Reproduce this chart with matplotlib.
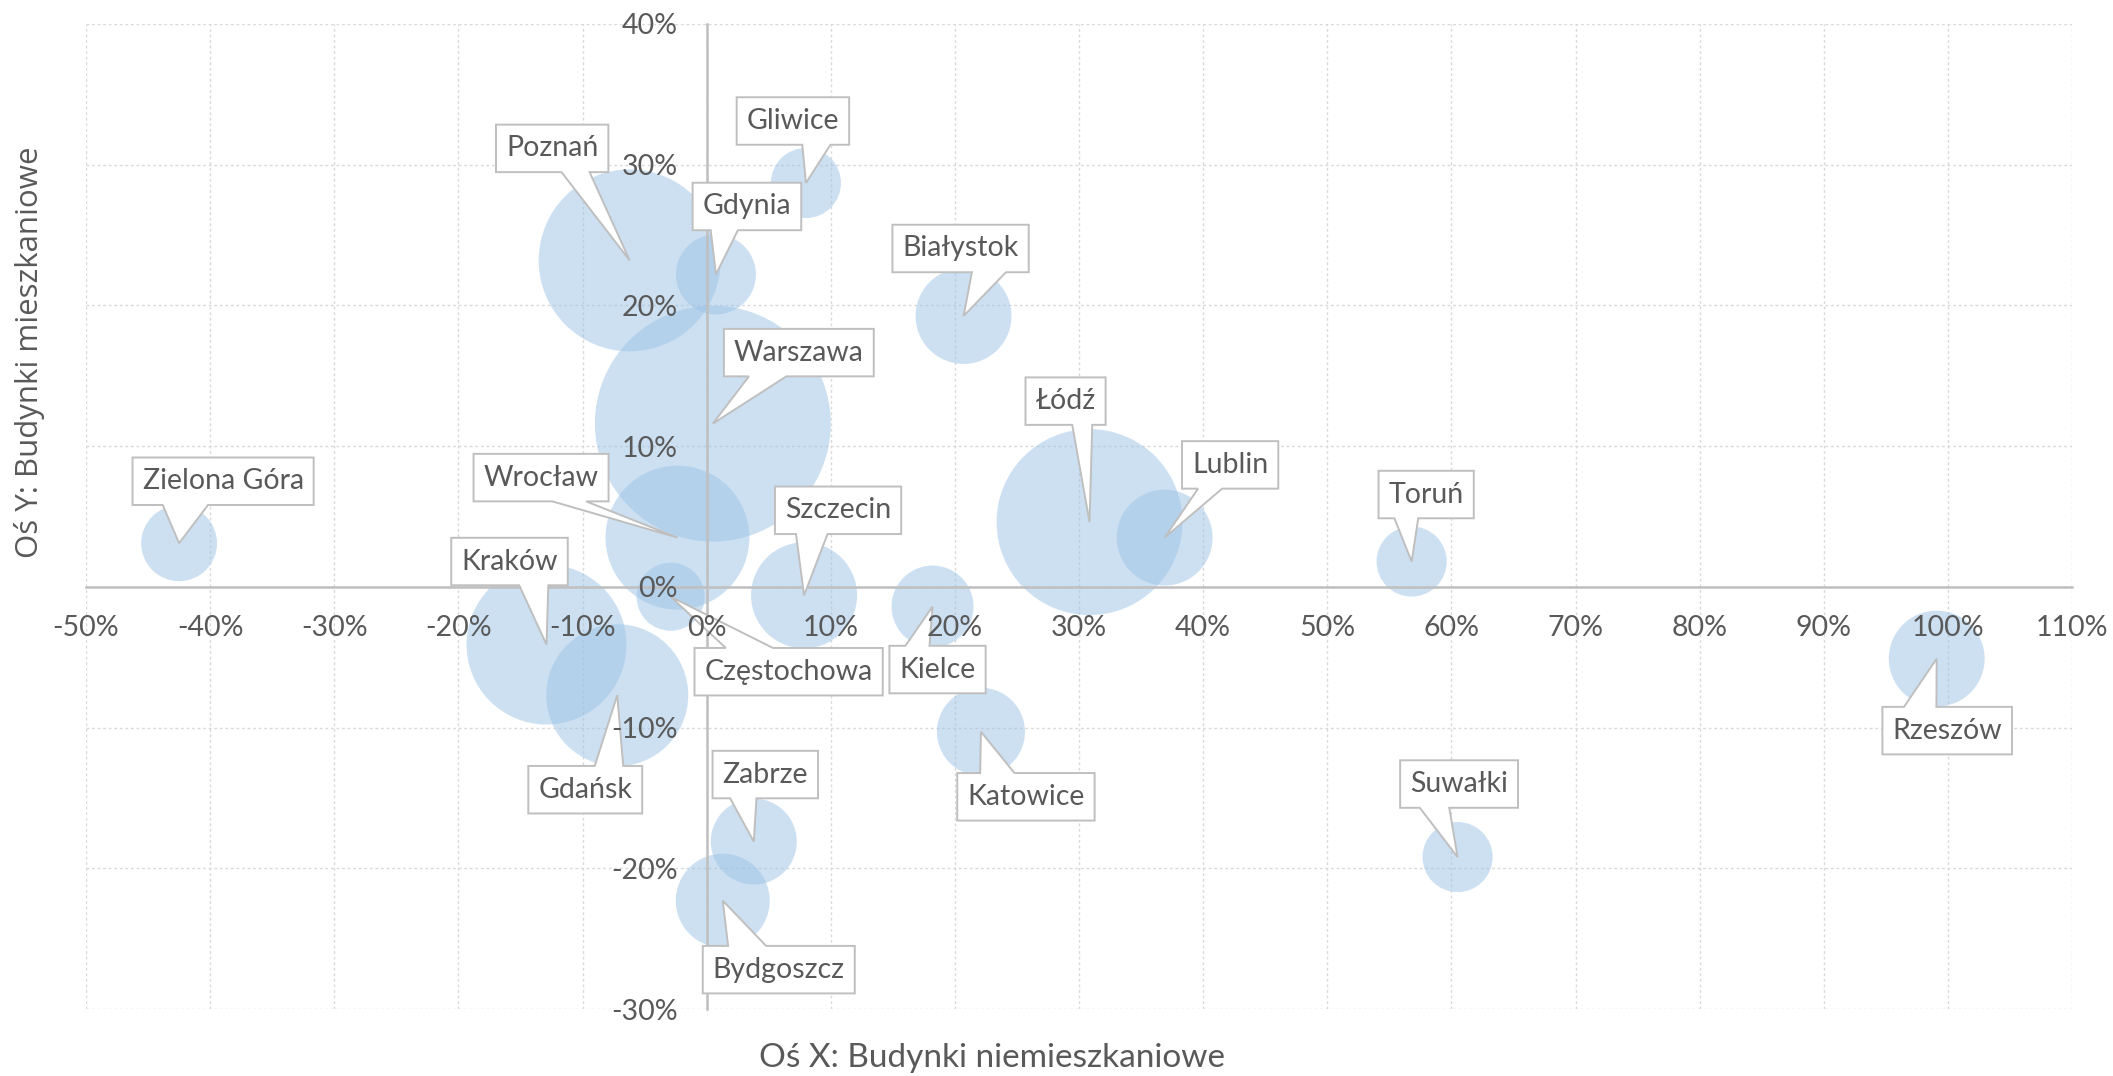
import matplotlib
matplotlib.use("Agg")
import matplotlib.pyplot as plt
import numpy as np
from matplotlib.patches import Polygon
from matplotlib.transforms import IdentityTransform
from matplotlib.ticker import PercentFormatter

plt.rcParams['axes.unicode_minus'] = False

cities = ["Zielona Góra", "Poznań", "Gliwice", "Gdynia", "Warszawa", "Wrocław",
          "Częstochowa", "Szczecin", "Kraków", "Gdańsk", "Zabrze", "Bydgoszcz",
          "Białystok", "Łódź", "Lublin", "Toruń", "Kielce", "Katowice",
          "Suwałki", "Rzeszów"]
# x: budynki niemieszkaniowe (%), y: budynki mieszkaniowe (%)
x_nonres = [-42.5, -6.2, 8.0, 0.75, 0.5, -2.35, -2.9, 7.85, -12.9, -7.2,
            3.8, 1.3, 20.7, 30.85, 36.9, 56.8, 18.2, 22.1, 60.5, 99.1]
y_res = [3.1, 23.2, 28.7, 22.2, 11.6, 3.5, -0.7, -0.6, -4.1, -7.7,
         -18.1, -22.3, 19.25, 4.6, 3.5, 1.8, -1.4, -10.3, -19.2, -5.1]
bubble = [14.4, 82.8, 12.3, 16.0, 139.2, 51.8, 11.6, 28.1, 64.0, 50.4,
          18.5, 22.1, 23.0, 86.5, 23.0, 12.3, 16.8, 19.4, 12.3, 23.0]

x_ticks = np.arange(-50, 111, 10)
y_ticks = np.arange(-30, 41, 10)

# callout box centre relative to bubble centre, in pixels (right, down)
label_dx = [44, -77.5, -13, 31, 86, -136.4, 118, 34, -37, -32,
            11.5, 56, -3, -24, 65.5, 14.5, 5, 45, 1.5, 10.5]
label_dy = [-62, -112, -62, -68, -71, -60, 75, -85, -83, 94.5,
            -67, 69, -67.5, -121, -72.7, -67, 63, 65, -73, 72]

grey_txt = '#595959'
W, H = 2113, 1076
fig = plt.figure(figsize=(W / 100, H / 100), dpi=100)
ax = fig.add_axes([86 / W, 1 - 1009 / H, (2072 - 86) / W, (1009 - 24) / H])
ax.set_xlim(-50, 110)
ax.set_ylim(-30, 40)
ax.set_xticks(x_ticks)
ax.set_yticks(y_ticks)
ax.xaxis.set_major_formatter(PercentFormatter(decimals=0))
ax.yaxis.set_major_formatter(PercentFormatter(decimals=0))

for s in ['top', 'right']:
    ax.spines[s].set_visible(False)
for s in ['bottom', 'left']:
    ax.spines[s].set_position(('data', 0))
    ax.spines[s].set_color('#BFBFBF')
    ax.spines[s].set_linewidth(1.8)
ax.tick_params(length=0, labelcolor=grey_txt)
ax.tick_params(axis='x', pad=20)
ax.tick_params(axis='y', pad=21)
for lab in ax.get_xticklabels() + ax.get_yticklabels():
    lab.set_fontfamily('Lato')
    lab.set_fontsize(20.5)
# tick labels on top of bubbles and callouts
ax.xaxis.set_zorder(5)
ax.yaxis.set_zorder(5)

# dotted gridlines, below everything
grid_kw = dict(color='#D9D9D9', linestyle=(0, (2, 2)), linewidth=1, zorder=0.5)
for xv in x_ticks:
    ax.axvline(xv, **grid_kw)
for yv in y_ticks:
    ax.axhline(yv, **grid_kw)

ax.scatter(x_nonres, y_res, s=np.array(bubble) * 207.36, c='#9DC3E6',
           alpha=0.5, edgecolors='none', zorder=2)

fig.text(30 / W, 1 - 352 / H, 'Oś Y: Budynki mieszkaniowe', rotation=90,
         ha='center', va='center', fontsize=22.5, family='Open Sans',
         color=grey_txt)
fig.text(992 / W, 1 - 1058 / H, 'Oś X: Budynki niemieszkaniowe',
         ha='center', va='center', fontsize=24, family='Lato', color=grey_txt)

fig.canvas.draw()
renderer = fig.canvas.get_renderer()
ident = IdentityTransform()
box_h = 47.5
pad = 10

for i, name in enumerate(cities):
    px, py = ax.transData.transform((x_nonres[i], y_res[i]))
    cx, cy = px + label_dx[i], py - label_dy[i]
    t = ax.text(cx, cy, name, transform=ident, ha='center', va='center',
                fontsize=20.5, family='Lato', color=grey_txt, zorder=3.2,
                clip_on=False)
    tw = t.get_window_extent(renderer).width
    w = tw + 2 * pad
    h = box_h
    L, R, B, T = cx - w / 2, cx + w / 2, cy - h / 2, cy + h / 2
    dxp, dyp = px - cx, py - cy
    if abs(dxp * h / w) < abs(dyp):
        if dxp > 0:
            a, b = L + w * 7 / 12, L + w * 10 / 12
        else:
            a, b = L + w * 2 / 12, L + w * 5 / 12
        if dyp < 0:
            verts = [(L, B), (a, B), (px, py), (b, B), (R, B), (R, T), (L, T)]
        else:
            verts = [(L, B), (R, B), (R, T), (b, T), (px, py), (a, T), (L, T)]
    else:
        if dyp > 0:
            c, d = B + h * 7 / 12, B + h * 10 / 12
        else:
            c, d = B + h * 2 / 12, B + h * 5 / 12
        if dxp > 0:
            verts = [(L, B), (R, B), (R, c), (px, py), (R, d), (R, T), (L, T)]
        else:
            verts = [(L, B), (R, B), (R, T), (L, T), (L, d), (px, py), (L, c)]
    poly = Polygon(verts, closed=True, transform=ident, facecolor='white',
                   edgecolor='#BFBFBF', linewidth=1.4, zorder=3, clip_on=False)
    ax.add_artist(poly)

fig.savefig('out.png', dpi=100)
